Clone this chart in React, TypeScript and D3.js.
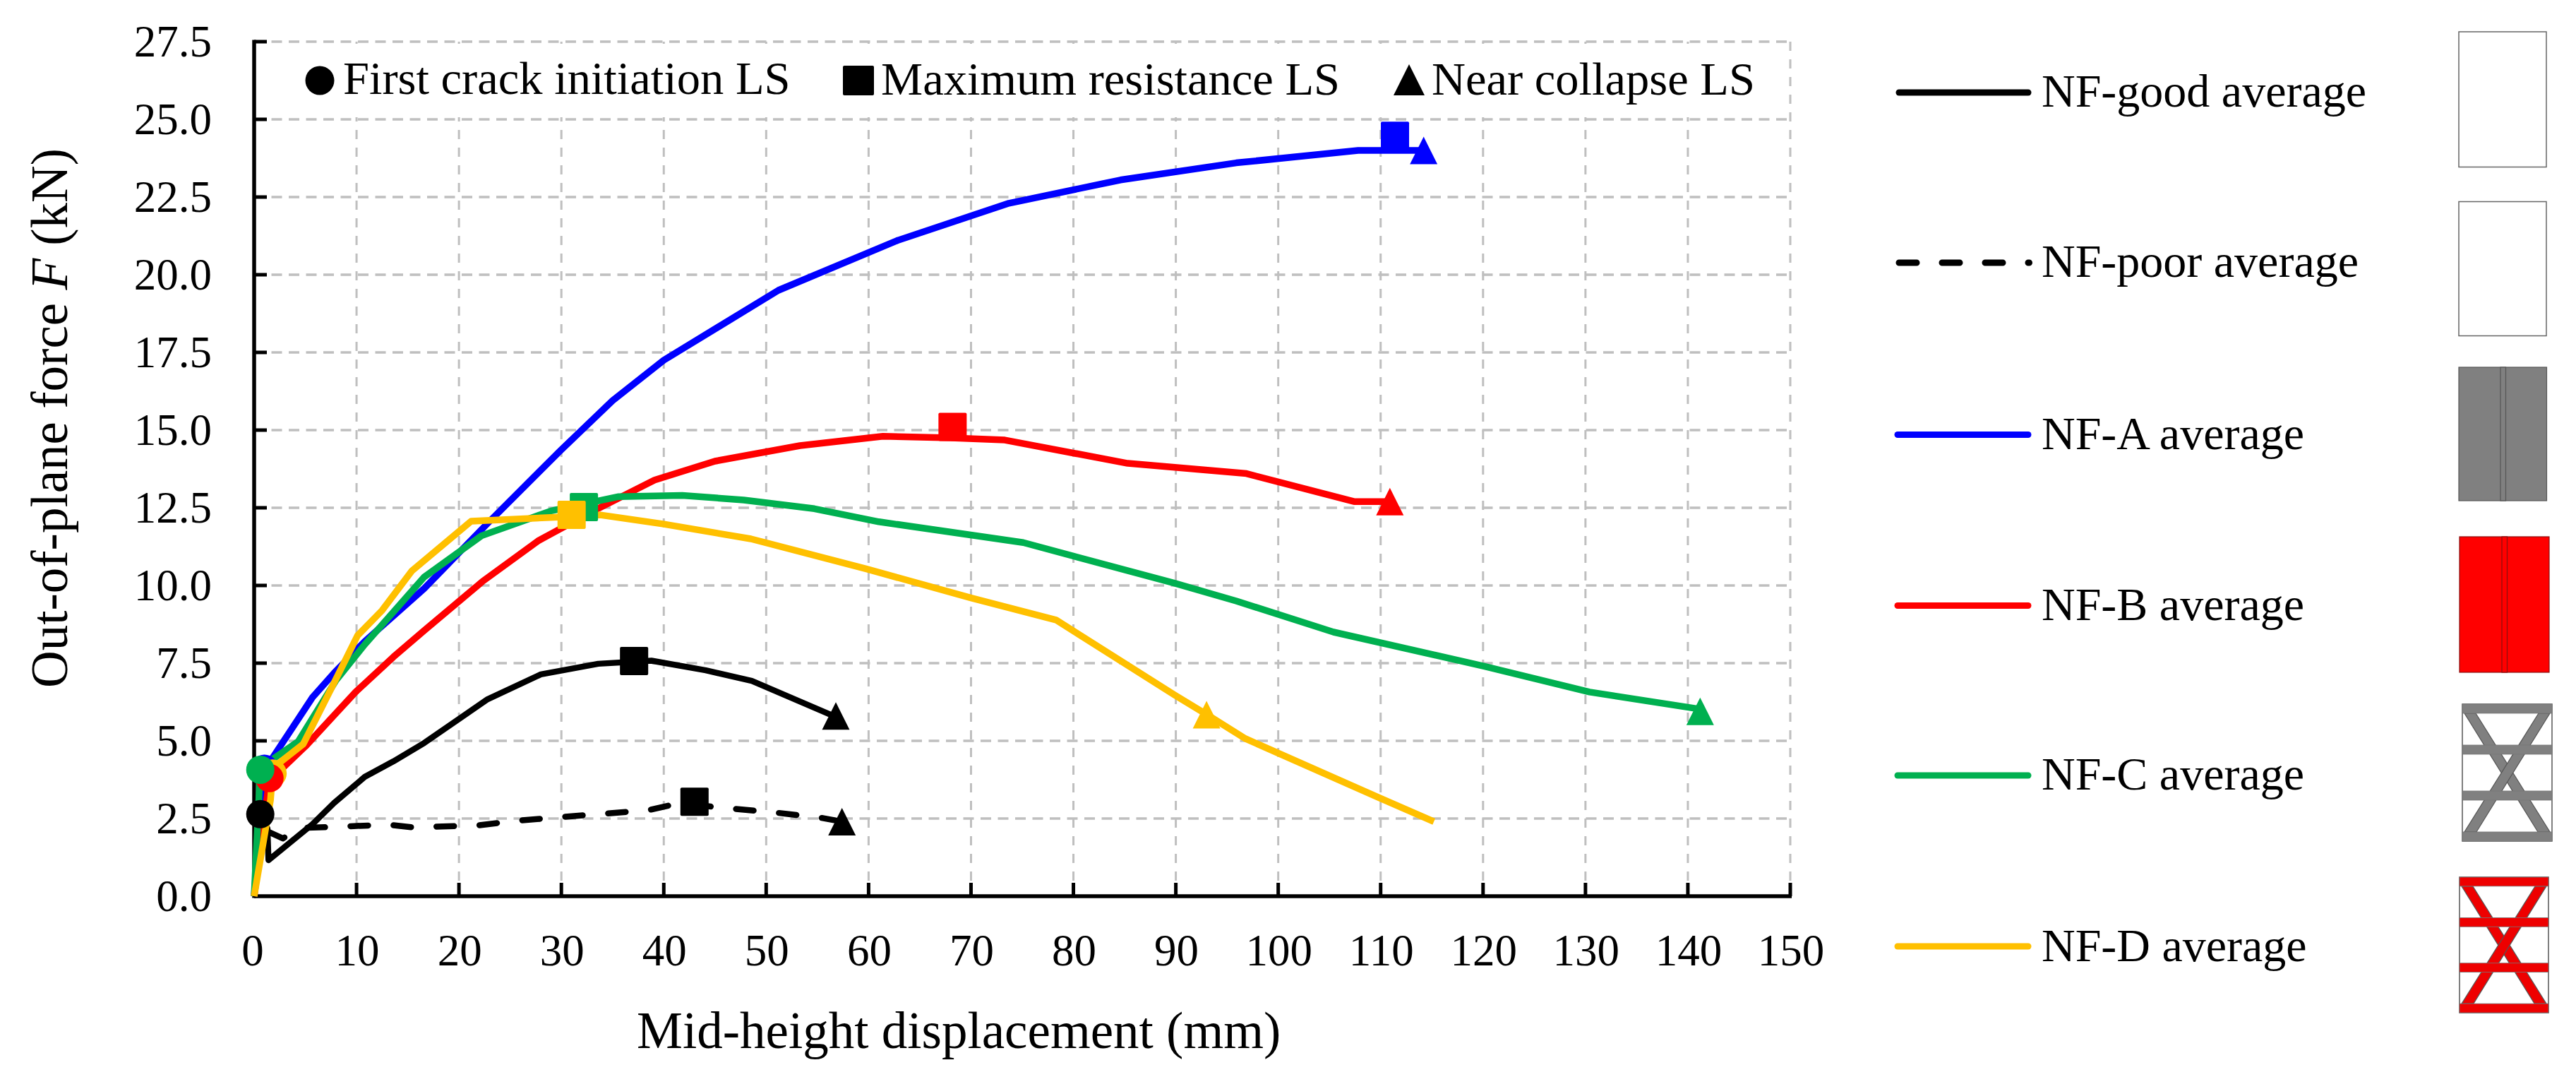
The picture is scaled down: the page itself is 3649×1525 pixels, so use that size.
import React from "react";
import * as d3 from "d3";

const xTicks = d3.range(0, 151, 10);
const yTicks = d3.range(0, 27.6, 2.5);

type P = [number, number];
const goodCurve: P[] = [[0.6,2.64],[1.3,2.18],[1.4,1.16],[5.7,2.32],[7.8,3.0],[10.8,3.84],[13.6,4.34],[16.6,4.93],[22.8,6.34],[28,7.14],[33.6,7.48],[38.8,7.58],[44.1,7.27],[48.6,6.93],[56.6,5.8]];
const poorCurve: P[] = [[1.4,2.07],[2.8,1.86],[4.7,2.2],[6.9,2.22],[13.1,2.3],[15.4,2.22],[21.6,2.27],[25.7,2.43],[30.1,2.55],[38.5,2.77],[41.6,3.0],[44.7,2.88],[51.2,2.68],[55.4,2.52],[57.4,2.4]];
const aCurve: P[] = [[0,0],[1,4.1],[1.8,4.45],[5.7,6.4],[7.8,7.18],[10.8,8.2],[16.6,9.9],[22.8,12.0],[29.9,14.34],[35,15.95],[40,17.25],[51.2,19.5],[62.8,21.1],[73.7,22.3],[84.6,23.05],[95.9,23.6],[107.8,24.0],[114.2,24.0]];
const bCurve: P[] = [[0,0],[1.5,3.8],[2.8,4.13],[5,4.82],[9.9,6.57],[13.6,7.7],[16.6,8.55],[22.3,10.13],[27.8,11.45],[33.6,12.48],[39.1,13.39],[45,14.0],[53.3,14.5],[61.4,14.8],[68,14.75],[73.3,14.68],[85.3,13.93],[96.9,13.6],[107.4,12.7],[111,12.7]];
const cCurve: P[] = [[0,0],[0.6,4.07],[2,4.45],[4.3,4.98],[8,6.95],[10.8,8.1],[16.6,10.27],[22.2,11.6],[29,12.4],[35.6,12.86],[41.8,12.9],[47.8,12.75],[54.7,12.47],[61,12.05],[75.1,11.38],[89.9,10.07],[95.9,9.5],[105.4,8.5],[120.1,7.4],[130.4,6.57],[141.2,6.02]];
const dCurve: P[] = [[0,0],[1.6,3.1],[1.8,3.95],[2.5,4.3],[4.8,4.9],[7.6,6.73],[10.1,8.39],[12.5,9.2],[15.4,10.47],[21.2,12.07],[29.7,12.2],[33.8,12.27],[39.9,11.98],[48.5,11.5],[59.8,10.53],[70,9.6],[78.3,8.89],[89.9,6.47],[93.4,5.77],[96.8,5.07],[109.9,3.16],[115.2,2.4]];

const seriesNames = ["NF-good average","NF-poor average","NF-A average","NF-B average","NF-C average","NF-D average"];
const seriesColors = ["#000000","#000000","#0000ff","#ff0000","#00b050","#ffc000"];
const seriesCurves = [poorCurve, goodCurve, aCurve, bCurve, cCurve, dCurve];
const curveColors = ["#000000","#000000","#0000ff","#ff0000","#00b050","#ffc000"];
const curveDashed = [true,false,false,false,false,false];

type M = [number, number, string];
const crackMarkers: M[] = [[1.0,4.1,"#0000ff"],[1.8,3.95,"#ffc000"],[1.5,3.8,"#ff0000"],[0.6,4.07,"#00b050"],[0.6,2.64,"#000000"]];
const maxMarkers: M[] = [[111.4,24.47,"#0000ff"],[68.2,15.1,"#ff0000"],[32.2,12.52,"#00b050"],[31,12.27,"#ffc000"],[37.1,7.57,"#000000"],[43,3.04,"#000000"]];
const collapseMarkers: M[] = [[114.2,24,"#0000ff"],[110.9,12.7,"#ff0000"],[141.2,5.95,"#00b050"],[93,5.84,"#ffc000"],[56.8,5.8,"#000000"],[57.4,2.4,"#000000"]];

const limitLabels = ["First crack initiation LS","Maximum resistance LS","Near collapse LS"];

const FONT = "'Liberation Serif','Times New Roman',serif";
const GRID = "#bfbfbf";
const tri = (cx: number, cy: number, s: number) => `M${cx},${cy - s / 2}L${cx + s / 2},${cy + s / 2}L${cx - s / 2},${cy + s / 2}Z`;

function Frame({ x, y, w, h, fill }: { x: number; y: number; w: number; h: number; fill: string }) {
  const sx = (v: number) => x + (v / 127) * w;
  const sy = (v: number) => y + (v / 194) * h;
  const bars = [0, 58, 123, 181];
  const ribs = [
    [[3,13],[19,13],[124,181],[107,181]],
    [[124,13],[108,13],[3,181],[20,181]],
  ];
  return (
    <g stroke="#555" strokeWidth={1.2}>
      <rect x={x} y={y} width={w} height={h} fill="#fff" stroke="#555" strokeWidth={1.5} />
      {ribs.map((r, i) => (
        <polygon key={i} fill={fill} points={r.map((p) => `${sx(p[0])},${sy(p[1])}`).join(" ")} />
      ))}
      {bars.map((b, i) => (
        <rect key={i} x={x} y={sy(b)} width={w} height={(13 / 194) * h} fill={fill} stroke="#777" strokeWidth={0.8} />
      ))}
    </g>
  );
}

export default function App() {
  const xS = d3.scaleLinear().domain([0, 150]).range([360, 2536]);
  const yS = d3.scaleLinear().domain([0, 27.5]).range([1269, 59]);
  const line = d3.line<P>().x((d) => xS(d[0])).y((d) => yS(d[1]));

  const legendYs = [131, 372, 615.5, 857.5, 1098, 1340];
  const legendLabelYs = [151, 392, 636, 878, 1118, 1361];

  return (
    <svg width={3649} height={1525} viewBox="0 0 3649 1525" style={{ position: "absolute", left: 0, top: 0, background: "#fff" }} fontFamily={FONT} fill="#000">
      {/* grid */}
      <g stroke={GRID} fill="none">
        {xTicks.slice(1).map((t) => (
          <line key={t} x1={xS(t)} x2={xS(t)} y1={yS(27.5)} y2={yS(0)} strokeWidth={3} strokeDasharray="13 12" />
        ))}
        {yTicks.slice(1).map((t) => (
          <line key={t} x1={xS(0)} x2={xS(150)} y1={yS(t)} y2={yS(t)} strokeWidth={3.5} strokeDasharray="15 9.5" />
        ))}
      </g>
      {/* white panel behind limit-state legend */}
      <rect x={372} y={62} width={2158} height={104} fill="#fff" />

      {/* axes */}
      <g stroke="#000" fill="none">
        <line x1={xS(0)} x2={xS(0)} y1={yS(27.5) - 2.5} y2={yS(0) + 2.5} strokeWidth={5.5} />
        <line x1={xS(0)} x2={xS(150) + 2} y1={yS(0)} y2={yS(0)} strokeWidth={5.5} />
        {yTicks.slice(1).map((t) => (
          <line key={t} x1={xS(0)} x2={xS(0) + 18} y1={yS(t)} y2={yS(t)} strokeWidth={5} />
        ))}
        {xTicks.slice(1).map((t) => (
          <line key={t} x1={xS(t)} x2={xS(t)} y1={yS(0)} y2={yS(0) - 19} strokeWidth={5} />
        ))}
      </g>

      {/* curves */}
      <g fill="none" strokeLinejoin="round">
        {seriesCurves.map((c, i) => (
          <path
            key={i}
            d={line(c) ?? ""}
            stroke={curveColors[i]}
            strokeWidth={i < 2 ? 8.5 : 9.5}
            strokeLinecap={curveDashed[i] ? "round" : "butt"}
            strokeDasharray={curveDashed[i] ? "25 36" : undefined}
          />
        ))}
      </g>

      {/* limit-state markers */}
      {collapseMarkers.map((m, i) => <path key={i} d={tri(xS(m[0]), yS(m[1]), 39)} fill={m[2]} />)}
      {maxMarkers.map((m, i) => <rect key={i} x={xS(m[0]) - 20} y={yS(m[1]) - 20} width={40} height={40} rx={2} fill={m[2]} />)}
      {crackMarkers.map((m, i) => <circle key={i} cx={xS(m[0])} cy={yS(m[1])} r={20} fill={m[2]} />)}

      {/* tick labels */}
      <g fontSize={63}>
        {yTicks.map((t) => (
          <text key={t} x={300} y={yS(t) + 20.5} textAnchor="end">{d3.format(".1f")(t)}</text>
        ))}
        {xTicks.map((t) => (
          <text key={t} x={t === 0 ? 358 : xS(t) + 1} y={1367} textAnchor="middle">{t}</text>
        ))}
      </g>

      {/* axis titles */}
      <text x={902} y={1484} fontSize={73}>Mid-height displacement (mm)</text>
      <text transform="translate(94.5,974) rotate(-90)" fontSize={73}>
        Out-of-plane force <tspan fontStyle="italic">F</tspan> (kN)
      </text>

      {/* limit-state legend */}
      <g fontSize={66.5}>
        <circle cx={453} cy={114} r={20.5} />
        <text x={486} y={133}>{limitLabels[0]}</text>
        <rect x={1194} y={93} width={44} height={42} rx={2} />
        <text x={1248} y={134}>{limitLabels[1]}</text>
        <path d={`M1996,91L2018,135L1974,135Z`} />
        <text x={2028} y={134}>{limitLabels[2]}</text>
      </g>

      {/* series legend */}
      {seriesNames.map((n, i) => (
        <g key={n}>
          <line
            x1={i === 0 || i === 1 ? 2690 : 2688}
            x2={i === 1 ? 2874.5 : 2873}
            y1={legendYs[i]}
            y2={legendYs[i]}
            stroke={seriesColors[i]}
            strokeWidth={9}
            strokeLinecap="round"
            strokeDasharray={i === 1 ? "25 36" : undefined}
          />
          <text x={2892} y={legendLabelYs[i]} fontSize={66}>{n}</text>
        </g>
      ))}

      {/* specimen schematics */}
      <rect x={3483} y={45} width={124} height={191.5} fill="#fff" stroke="#666" strokeWidth={1.5} />
      <rect x={3483} y={285.5} width={124} height={190} fill="#fff" stroke="#666" strokeWidth={1.5} />
      <g stroke="#555" strokeWidth={1.2}>
        <rect x={3483} y={520} width={124.5} height={189} fill="#808080" />
        <rect x={3542} y={520} width={7.5} height={189} fill="#808080" />
      </g>
      <g stroke="#8a1010" strokeWidth={1.2}>
        <rect x={3484} y={760} width={127} height={192} fill="#ff0000" />
        <rect x={3544} y={760} width={7.5} height={192} fill="#ff0000" />
      </g>
      <Frame x={3488} y={997} w={127} h={194} fill="#808080" />
      <Frame x={3484} y={1242} w={126} h={192} fill="#ee0000" />
    </svg>
  );
}
